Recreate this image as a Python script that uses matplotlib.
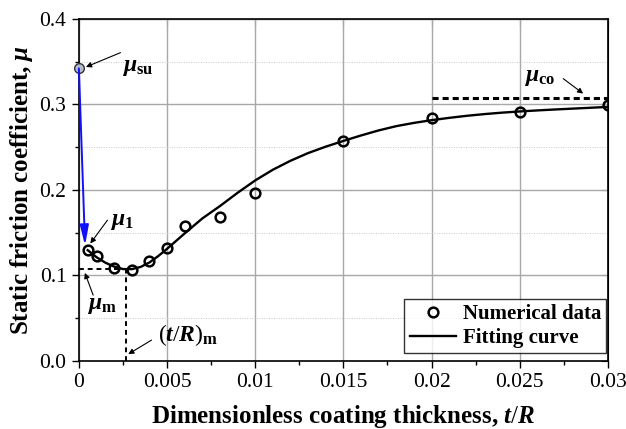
import matplotlib
matplotlib.use("Agg")
import matplotlib.pyplot as plt
from matplotlib.ticker import FixedLocator, FixedFormatter, MultipleLocator

plt.rcParams['font.family'] = ['Liberation Serif', 'DejaVu Serif']
plt.rcParams['mathtext.fontset'] = 'custom'
plt.rcParams['mathtext.rm'] = 'Liberation Serif'
plt.rcParams['mathtext.it'] = 'Liberation Serif:italic:bold'
plt.rcParams['mathtext.bf'] = 'Liberation Serif:bold'

# ---- data ----
num_x = [0.0005, 0.001, 0.002, 0.003, 0.004, 0.005, 0.006, 0.008, 0.010,
         0.015, 0.020, 0.025, 0.030]
num_y = [0.1295, 0.1228, 0.1090, 0.1060, 0.1170, 0.1315, 0.1575, 0.1677,
         0.1965, 0.2573, 0.2835, 0.2912, 0.2990]
su_x = [0.0]
su_y = [0.342]

fit_x = [0.0005, 0.001, 0.0015, 0.002, 0.0025, 0.003, 0.0035, 0.004, 0.0045,
         0.005, 0.0055, 0.006, 0.007, 0.008, 0.009, 0.010, 0.011, 0.012,
         0.013, 0.014, 0.015, 0.016, 0.017, 0.018, 0.019, 0.020, 0.021,
         0.022, 0.023, 0.024, 0.025, 0.026, 0.027, 0.028, 0.029, 0.030]
fit_y = [0.1294, 0.1212, 0.1148, 0.1102, 0.1073, 0.1072, 0.1098, 0.1150,
         0.1225, 0.1310, 0.1400, 0.1490, 0.1665, 0.1810, 0.1965, 0.2110,
         0.2235, 0.2340, 0.2430, 0.2505, 0.2572, 0.2636, 0.2695, 0.2745,
         0.2783, 0.2815, 0.2842, 0.2866, 0.2886, 0.2903, 0.2917, 0.2929,
         0.2940, 0.2950, 0.2960, 0.2970]

mu_min = 0.107
tR_min = 0.00265
mu_co = 0.308
mu_co_x = [0.020, 0.030]

xticks = [0, 0.005, 0.01, 0.015, 0.02, 0.025, 0.03]
xticklabels = ['0', '0.005', '0.01', '0.015', '0.02', '0.025', '0.03']
yticks = [0.0, 0.1, 0.2, 0.3, 0.4]
yticklabels = ['0.0', '0.1', '0.2', '0.3', '0.4']

# ---- figure ----
fig = plt.figure(figsize=(6.26, 4.29), dpi=100)
ax = fig.add_axes([0.126, 0.159, 0.845, 0.797])

ax.set_xlim(0, 0.03)
ax.set_ylim(0, 0.4)

ax.xaxis.set_major_locator(FixedLocator(xticks))
ax.xaxis.set_major_formatter(FixedFormatter(xticklabels))
ax.yaxis.set_major_locator(FixedLocator(yticks))
ax.yaxis.set_major_formatter(FixedFormatter(yticklabels))
ax.xaxis.set_minor_locator(MultipleLocator(0.0025))
ax.yaxis.set_minor_locator(MultipleLocator(0.05))

ax.grid(which='major', color='#a8a8a8', lw=1.0, ls='-')
ax.grid(which='minor', axis='y', color='#c8c8c8', lw=0.7, ls=(0, (1, 1.5)))
ax.set_axisbelow(True)

ax.tick_params(which='both', direction='out', labelsize=15.5, width=1.0,
               top=False, right=False, pad=4)
ax.tick_params(which='major', length=5)
ax.tick_params(which='minor', length=3)
for s in ax.spines.values():
    s.set_linewidth(1.2)

# mirrored ticks inside on top/right
axr = ax.secondary_yaxis('right')
axr.set_yticks(yticks)
axr.tick_params(direction='in', length=5, labelright=False)
axt = ax.secondary_xaxis('top')
axt.set_xticks(xticks)
axt.tick_params(direction='in', length=5, labeltop=False)

# fitting curve
line, = ax.plot(fit_x, fit_y, color='black', lw=1.7, zorder=3,
                label='Fitting curve')
# numerical data
pts, = ax.plot(num_x, num_y, ls='none', marker='o', ms=7, mfc='none',
               mec='black', mew=1.8, zorder=4, label='Numerical data')
ax.plot(su_x, su_y, ls='none', marker='o', ms=7, mfc='#b4bccb', mec='#333333',
        mew=1.0, zorder=5, clip_on=False)

# dashed guide lines
ax.plot([0, tR_min], [mu_min, mu_min], color='black', lw=1.4,
        ls=(0, (2.5, 2)), zorder=2)
ax.plot([tR_min, tR_min], [0, mu_min], color='black', lw=1.4,
        ls=(0, (2.5, 2)), zorder=2)
ax.plot(mu_co_x, [mu_co, mu_co], color='black', lw=2.2,
        ls=(0, (2, 1.3)), zorder=2, clip_on=False)

# blue arrow
ax.annotate('', xy=(0.00035, 0.135), xytext=(0.0, 0.342),
            arrowprops=dict(arrowstyle='-|>,head_length=1.0,head_width=0.22',
                            color='#1010ff', lw=1.4,
                            mutation_scale=12, shrinkA=0, shrinkB=0),
            zorder=6)

ann_fs = 17
arrow_kw = dict(arrowstyle='-|>', color='black', lw=0.8, mutation_scale=8,
                shrinkA=0, shrinkB=0)

# mu_su
ax.text(0.00335, 0.343, r'$\mu_{\mathbf{su}}$', fontsize=ann_fs,
        ha='center', va='center')
ax.annotate('', xy=(0.0004, 0.3437), xytext=(0.00236, 0.3605),
            arrowprops=arrow_kw)
# mu_1
ax.text(0.00242, 0.1625, r'$\mu_{\mathbf{1}}$', fontsize=ann_fs,
        ha='center', va='center')
ax.annotate('', xy=(0.00065, 0.1372), xytext=(0.00162, 0.1645),
            arrowprops=arrow_kw)
# mu_m
ax.text(0.0013, 0.0651, r'$\mu_{\mathbf{m}}$', fontsize=ann_fs,
        ha='center', va='center')
ax.annotate('', xy=(0.00034, 0.1029), xytext=(0.00081, 0.0768),
            arrowprops=arrow_kw)
# (t/R)_m
ax.text(0.00618, 0.030, r'$(t/R)_{\mathbf{m}}$', fontsize=ann_fs,
        ha='center', va='center')
ax.annotate('', xy=(0.0028, 0.0078), xytext=(0.00412, 0.0242),
            arrowprops=arrow_kw)
# mu_co
ax.text(0.02614, 0.3316, r'$\mu_{\mathbf{co}}$', fontsize=ann_fs,
        ha='center', va='center')
ax.annotate('', xy=(0.0286, 0.3126), xytext=(0.02747, 0.3301),
            arrowprops=arrow_kw)

leg = ax.legend(handles=[pts, line], loc='lower right',
                bbox_to_anchor=(0.997, 0.022), borderaxespad=0,
                prop={'weight': 'bold', 'size': 15}, frameon=True,
                fancybox=False, edgecolor='black', handlelength=2.25,
                handletextpad=0.3, borderpad=0.25, labelspacing=0.2)
leg.get_frame().set_linewidth(1.0)

ax.set_xlabel(r'Dimensionless coating thickness, $t/R$', fontsize=18,
              fontweight='bold', labelpad=8)
ax.set_ylabel(r'Static friction coefficient, $\mu$', fontsize=18,
              fontweight='bold', labelpad=3)

fig.savefig('out.png', dpi=100)
